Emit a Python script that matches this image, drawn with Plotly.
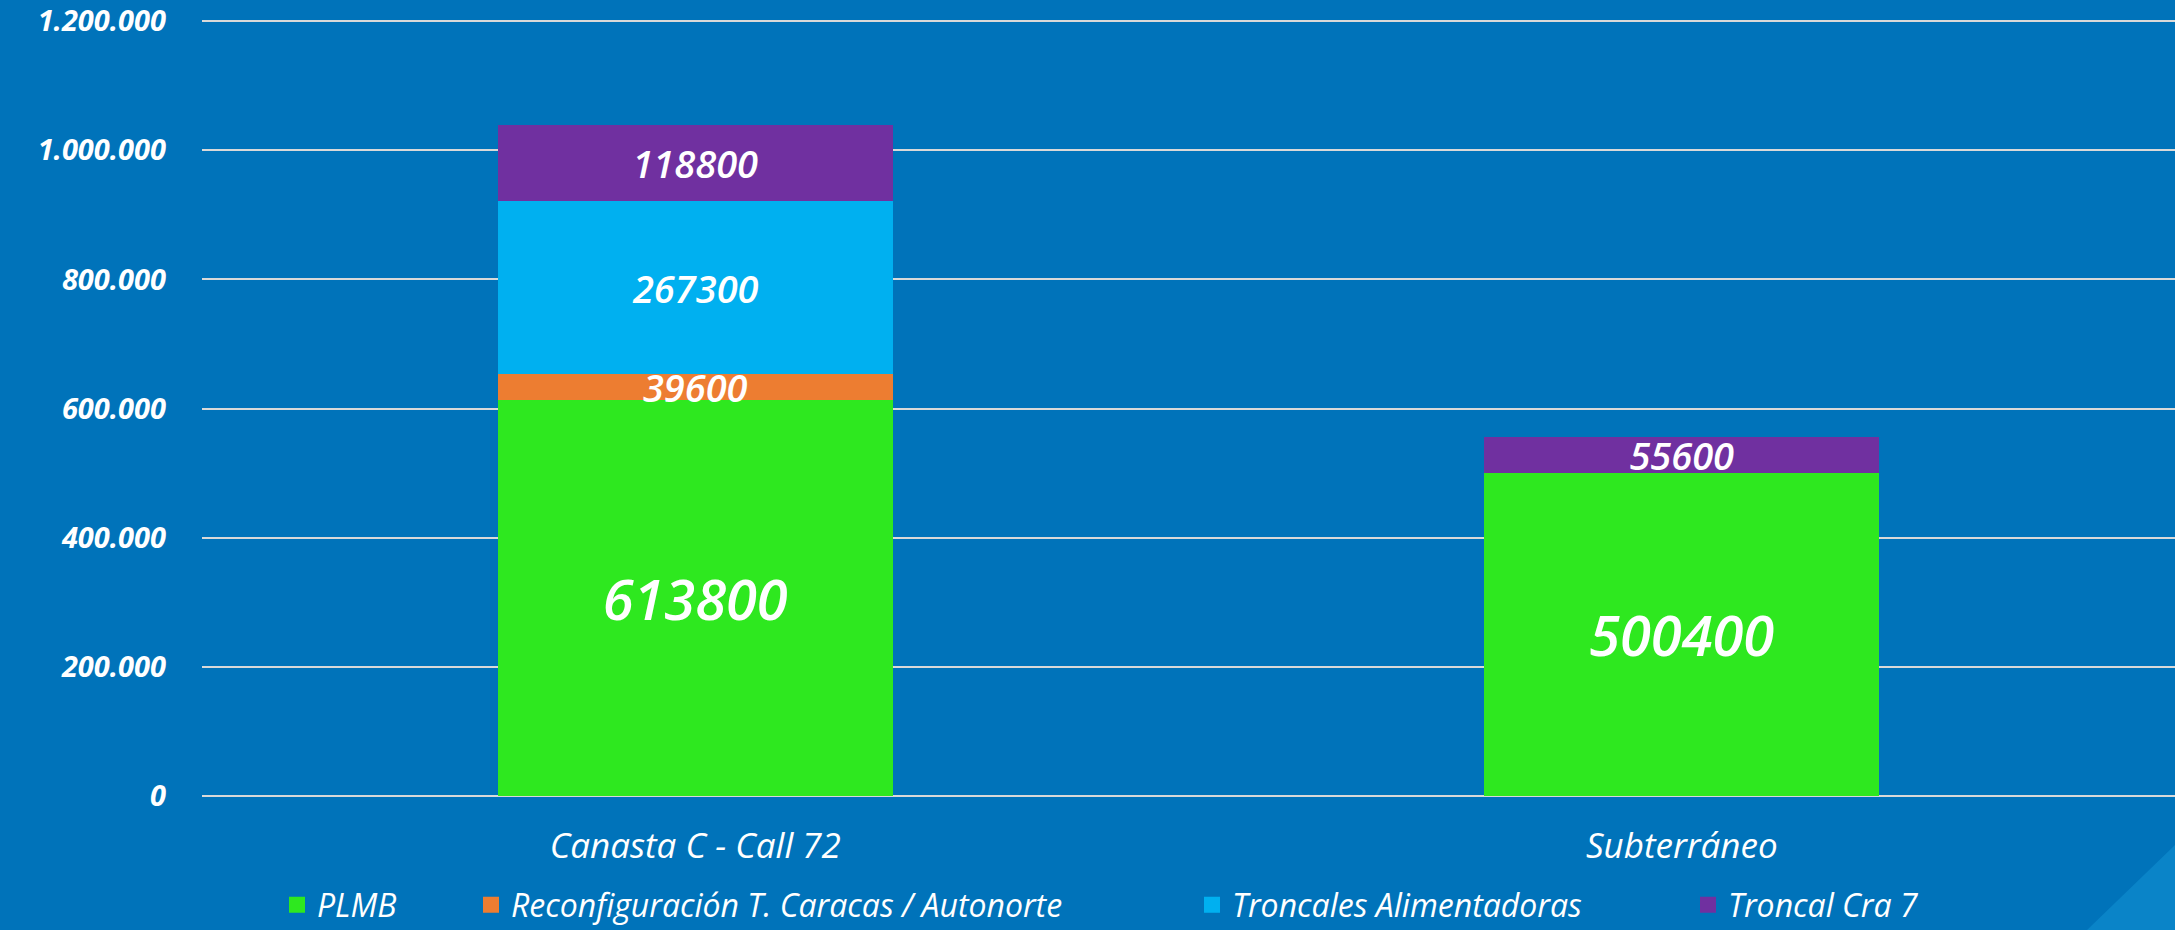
import plotly.graph_objects as go

categories = ["Canasta C - Call 72", "Subterráneo"]
series_names = ["PLMB", "Reconfiguración T. Caracas / Autonorte", "Troncales Alimentadoras", "Troncal Cra 7"]
plmb = [613800, 500400]
reconfig = [39600, None]
troncales = [267300, None]
cra7 = [118800, 55600]
y_ticks = [0, 200000, 400000, 600000, 800000, 1000000, 1200000]

colors = ["#2EE81F", "#ED7D31", "#00B0F0", "#7030A0"]
label_sizes = [56, 38, 38, 38]
FONT = "Open Sans"

L, R, T, B = 202, 0, 20, 134
W, H = 2175, 930
pw = W - L - R
ph = H - T - B

# legend item left positions (pixels) and y center
legend_px = [277, 471, 1192, 1688]
legend_y = (H - B - 905) / ph

fig = go.Figure()
all_series = [plmb, reconfig, troncales, cra7]
for i, (name, vals) in enumerate(zip(series_names, all_series)):
    fig.add_trace(go.Bar(
        x=categories, y=vals, name=name,
        marker=dict(color=colors[i], line=dict(width=0)),
        texttemplate="%{y:.0f}", textposition="inside", insidetextanchor="middle",
        constraintext="none",
        textfont=dict(family=FONT, size=label_sizes[i], color="white", style="italic", weight=600),
        showlegend=False, hoverinfo="x+y+name",
    ))

# legend entries (square swatches)
for i, name in enumerate(series_names):
    lg = "legend" if i == 0 else f"legend{i+1}"
    fig.add_trace(go.Scatter(
        x=[None], y=[None], mode="markers", name=name,
        marker=dict(symbol="square", size=20, color=colors[i]),
        legend=lg, showlegend=True, hoverinfo="skip",
    ))

legend_common = dict(
    orientation="h", yanchor="middle", xanchor="left", y=legend_y,
    bgcolor="rgba(0,0,0,0)", borderwidth=0,
    font=dict(family=FONT, size=32, color="white", style="italic", weight=500),
)
layout_legends = {}
for i in range(4):
    key = "legend" if i == 0 else f"legend{i+1}"
    layout_legends[key] = dict(legend_common, x=(legend_px[i] - L) / pw)

fig.update_layout(
    width=W, height=H,
    barmode="stack", bargap=0.6,
    paper_bgcolor="#0073BA", plot_bgcolor="#0073BA",
    margin=dict(l=L, r=R, t=T, b=B, autoexpand=False),
    separators=",.",
    showlegend=True,
    **layout_legends,
    xaxis=dict(
        showgrid=False, showline=False, ticks="", automargin=False,
        tickfont=dict(family=FONT, size=35, color="white", style="italic", weight=500),
        ticklabelstandoff=26,
    ),
    yaxis=dict(
        range=[0, 1201600], tickvals=y_ticks, tickformat=",d", automargin=False,
        ticklabeloverflow="allow",
        showgrid=True, gridcolor="#D9D9D9", gridwidth=2,
        zeroline=True, zerolinecolor="#D9D9D9", zerolinewidth=2,
        showline=False, ticks="",
        tickfont=dict(family=FONT, size=29, color="white", style="italic", weight=700),
        ticklabelstandoff=35,
    ),
    shapes=[dict(
        type="path", xref="paper", yref="paper", layer="below",
        path=f"M {(2087-L)/pw},{(H-B-930)/ph} L {(2175-L)/pw},{(H-B-845)/ph} L {(2175-L)/pw},{(H-B-930)/ph} Z",
        fillcolor="#0A84C8", line=dict(width=0),
    )],
)

fig.write_html(
    "out.html",
    config={"displayModeBar": False},
    post_script="document.body.style.margin='0';document.body.style.overflow='hidden';",
)
